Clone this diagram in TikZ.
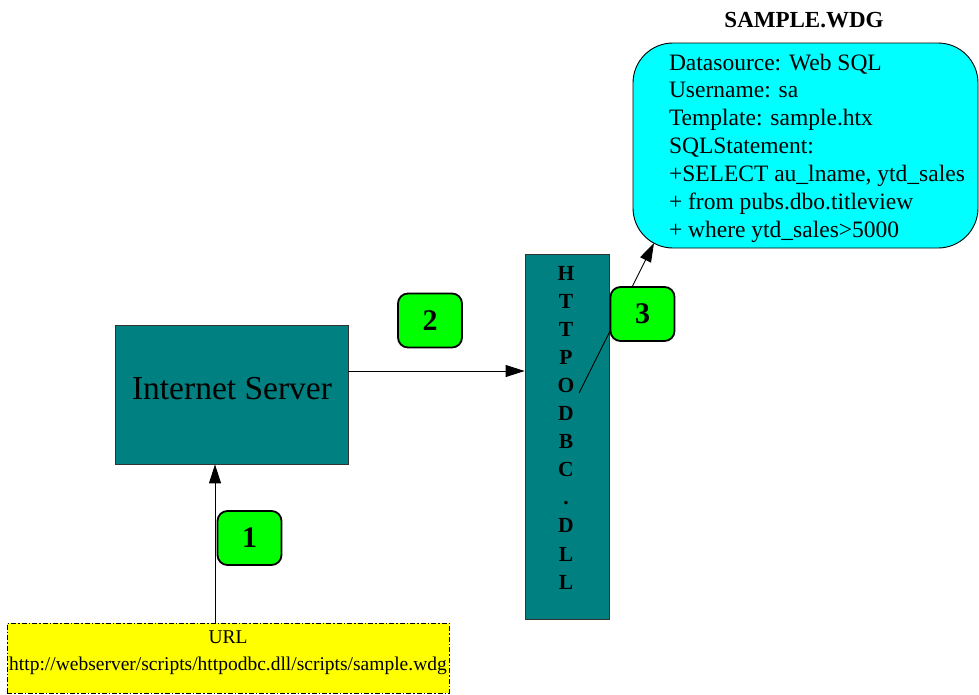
\documentclass[tikz,border=0pt]{standalone}
\usepackage{fontspec}
\setmainfont{Liberation Serif}
\usetikzlibrary{arrows.meta}
\definecolor{serverteal}{RGB}{0,128,128}
\definecolor{stepgreen}{RGB}{0,255,0}
\definecolor{wdgcyan}{RGB}{0,255,255}
\definecolor{urlyellow}{RGB}{255,255,0}
\newcommand\fsz[1]{\fontsize{#1}{#1}\selectfont}
\tikzset{
  tealbox/.style={draw=black!80, line width=0.8pt, fill=serverteal, inner sep=0pt},
  stepbadge/.style={draw=black, line width=1.8pt, fill=stepgreen, rounded corners=10pt,
    minimum width=64pt, minimum height=54pt, inner sep=0pt, font=\fsz{30}\bfseries},
  flow/.style={draw=black, line width=0.9pt, -{Triangle[length=19pt,width=12pt]}},
  txt/.style={inner sep=0pt, outer sep=0pt},
}
\begin{document}
\begin{tikzpicture}[x=1pt,y=-1pt]
\useasboundingbox (0,0) rectangle (979,694);

% Internet server
\node[tealbox, minimum width=233pt, minimum height=139pt] (is) at (231.5,394.5) {};
\node[txt, anchor=base, font=\fsz{33.5}] (istext) at (232,399) {Internet Server};

% HTTPODBC.DLL column
\node[tealbox, minimum width=84pt, minimum height=365pt] (dll) at (567,436.5) {};
\foreach \ch [count=\i from 0] in {H,T,T,P,O,D,B,C,.,D,L,L}
  \node[txt, anchor=base, font=\fsz{21.5}\bfseries] (dllch\i) at (566,280+28.1*\i) {\ch};

% SAMPLE.WDG bubble
\node[txt, anchor=base, font=\fsz{23}\bfseries] (wdgtitle) at (804,27) {SAMPLE.WDG};
\node[draw=black, line width=0.9pt, fill=wdgcyan, rounded corners=40pt,
      minimum width=345pt, minimum height=205pt, inner sep=0pt] (wdg) at (805.5,145.5) {};
\foreach \ln [count=\i from 0] in {Datasource: Web SQL, Username: sa, Template: sample.htx,
    SQLStatement:, {+SELECT au\_lname, ytd\_sales}, + from pubs.dbo.titleview,
    + where ytd\_sales>5000}
  \node[txt, anchor=base west, font=\fsz{23.5}] (wdgline\i) at (669,70+27.85*\i) {\ln};

% URL box
\node[draw=black, line width=0.9pt, fill=urlyellow,
      dash pattern=on 5pt off 2pt on 1.5pt off 2pt,
      minimum width=442pt, minimum height=70pt, inner sep=0pt] (url) at (228,658) {};
\node[txt, anchor=base, font=\fsz{19.5}] (urltitle) at (228,643) {URL};
\node[txt, anchor=base, font=\fsz{19.5}] (urladdr) at (228,670) {http://webserver/scripts/httpodbc.dll/scripts/sample.wdg};

% connectors
\draw[flow] (url.north -| 215,0) -- (is.south -| 215,0);
\draw[flow] (is.east |- 0,371) -- (dll.west |- 0,371);
\coordinate (dllport) at (579,393);
\coordinate (wdgport) at (654,243);
\draw[flow] (dllport) -- (wdgport);

% step badges
\node[stepbadge] (stepone) at (249.5,538) {1};
\node[stepbadge] (steptwo) at (430,320.5) {2};
\node[stepbadge] (stepthree) at (642.5,314) {3};
\end{tikzpicture}
\end{document}
